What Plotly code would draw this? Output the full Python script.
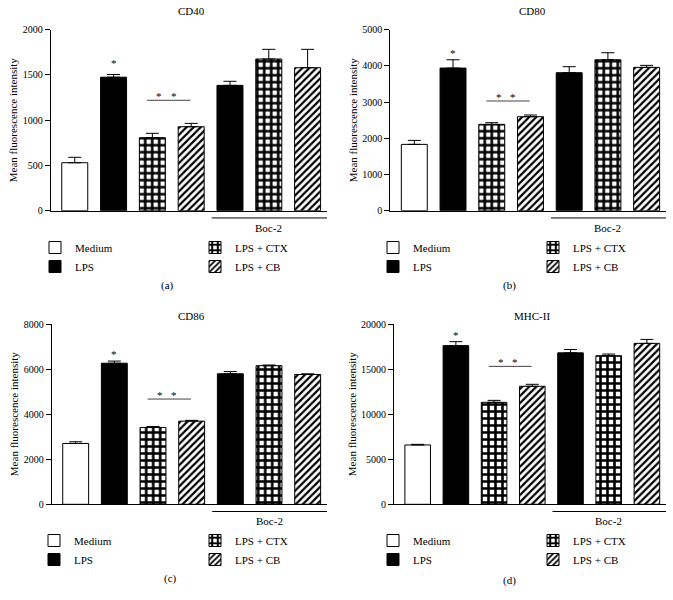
import plotly.graph_objects as go

# ---------------- data ----------------
categories = ["Medium", "LPS", "LPS + CTX", "LPS + CB",
              "Boc-2 LPS", "Boc-2 LPS + CTX", "Boc-2 LPS + CB"]
groups = ["Medium", "LPS", "LPS + CTX", "LPS + CB", "LPS", "LPS + CTX", "LPS + CB"]
legend_groups = ["Medium", "LPS", "LPS + CTX", "LPS + CB"]

panel_titles = ["CD40", "CD80", "CD86", "MHC-II"]
panel_labels = ["(a)", "(b)", "(c)", "(d)"]

cd40_mean = [530, 1475, 807, 928, 1385, 1676, 1580]
cd40_err = [60, 30, 48, 37, 45, 107, 203]
cd80_mean = [1832, 3940, 2385, 2597, 3812, 4170, 3959]
cd80_err = [110, 230, 46, 46, 166, 194, 56]
cd86_mean = [2700, 6260, 3410, 3690, 5790, 6150, 5760]
cd86_err = [75, 95, 40, 35, 100, 30, 30]
mhc_mean = [6580, 17600, 11310, 13090, 16800, 16480, 17850]
mhc_err = [70, 440, 220, 220, 370, 185, 440]

y_max = [2000, 5000, 8000, 20000]
y_dtick = [500, 1000, 2000, 5000]
bracket_level = [1220, 3030, 4670, 15300]
star_level = [1646, 4376, 6700, 18860]

means = [cd40_mean, cd80_mean, cd86_mean, mhc_mean]
errs = [cd40_err, cd80_err, cd86_err, mhc_err]

# ---------------- layout geometry ----------------
W, H = 673, 600
FONT = "Liberation Serif"

def px_x(v):
    return v / W

def px_y(v):
    return 1 - v / H

x_domains = [[px_x(50.7), px_x(327)], [px_x(390.3), px_x(666)],
             [px_x(51.7), px_x(327)], [px_x(394), px_x(666)]]
y_domains = [[px_y(210.7), px_y(29.7)], [px_y(210.7), px_y(29.7)],
             [px_y(504.3), px_y(324)], [px_y(504.3), px_y(324)]]

title_pos = [(191.7, 11), (532, 11), (191.7, 316), (532, 316)]
caption_pos = [(167, 285), (509, 285), (170, 578), (509, 580)]
legend_left_text = [75, 413, 74, 413]
legend_right_text = [235, 573, 235, 573]
legend_top = [233, 233, 526, 526]

styles = {
    "Medium": dict(color="white", line=dict(color="black", width=1)),
    "LPS": dict(color="black", line=dict(color="black", width=1)),
    "LPS + CTX": dict(color="white", line=dict(color="black", width=1),
                      pattern=dict(shape="+", fgcolor="black", bgcolor="white",
                                   size=7, solidity=0.6, fillmode="replace")),
    "LPS + CB": dict(color="white", line=dict(color="black", width=1),
                     pattern=dict(shape="/", fgcolor="black", bgcolor="white",
                                  size=5, solidity=0.45, fillmode="replace")),
}

fig = go.Figure()
layout = dict(width=W, height=H, margin=dict(l=0, r=0, t=0, b=0),
              paper_bgcolor="white", plot_bgcolor="white",
              barmode="overlay", font=dict(family=FONT, size=11, color="black"))
annotations = []
shapes = []

for p in range(4):
    sfx = "" if p == 0 else str(p + 1)
    xa, ya = "x" + sfx, "y" + sfx
    leg_left = "legend" if p == 0 else "legend" + str(2 * p + 1)
    leg_right = "legend" + str(2 * p + 2)
    for g in legend_groups:
        idx = [i for i, gg in enumerate(groups) if gg == g]
        fig.add_trace(go.Bar(
            x=[categories[i] for i in idx],
            y=[means[p][i] for i in idx],
            error_y=dict(type="data", symmetric=False,
                         array=[errs[p][i] for i in idx],
                         arrayminus=[0] * len(idx),
                         color="black", thickness=1, width=6.5),
            marker=styles[g], width=0.67, name=g,
            legend=leg_left if g in ("Medium", "LPS") else leg_right,
            xaxis=xa, yaxis=ya, showlegend=True,
        ))
    layout["xaxis" + sfx] = dict(
        domain=x_domains[p], anchor=ya, type="category",
        categoryorder="array", categoryarray=categories,
        range=[-0.62, 6.5], showticklabels=False, ticks="",
        showline=True, linecolor="black", linewidth=1,
        showgrid=False, zeroline=False, fixedrange=True)
    layout["yaxis" + sfx] = dict(
        domain=y_domains[p], anchor=xa, range=[0, y_max[p]],
        dtick=y_dtick[p], tick0=0, tickformat="d",
        ticks="outside", ticklen=5, tickwidth=1, tickcolor="black",
        showline=True, linecolor="black", linewidth=1,
        showgrid=False, zeroline=False, automargin=False,
        tickfont=dict(family=FONT, size=10, color="black"),
        title=dict(text="Mean fluorescence intensity",
                   font=dict(family=FONT, size=11, color="black"), standoff=2))
    # legends
    for leg, tx in ((leg_left, legend_left_text[p]), (leg_right, legend_right_text[p])):
        layout[leg] = dict(x=px_x(tx - 40), y=px_y(legend_top[p]),
                           xanchor="left", yanchor="top",
                           bgcolor="rgba(0,0,0,0)", borderwidth=0,
                           font=dict(family=FONT, size=11, color="black"),
                           tracegroupgap=0, traceorder="normal")
    # Boc-2 group line and label
    shapes.append(dict(type="line", xref=xa, yref=ya + " domain",
                       x0=3.53, x1=6.5, y0=-0.04, y1=-0.04,
                       line=dict(color="black", width=1)))
    annotations.append(dict(text="Boc-2", xref=xa, yref=ya + " domain",
                            x=categories[5], y=-0.094, showarrow=False,
                            yanchor="middle", xanchor="center",
                            font=dict(family=FONT, size=11, color="black")))
    # significance bracket
    shapes.append(dict(type="line", xref=xa, yref=ya,
                       x0=1.86, x1=2.98, y0=bracket_level[p], y1=bracket_level[p],
                       line=dict(color="#444", width=1)))
    for sx in (2.18, 2.55):
        annotations.append(dict(text="*", xref=xa, yref=ya, x=sx, y=bracket_level[p],
                                showarrow=False, yanchor="bottom", yshift=-4,
                                font=dict(family=FONT, size=11, color="black")))
    annotations.append(dict(text="*", xref=xa, yref=ya, x=categories[1], y=star_level[p],
                            showarrow=False, yanchor="middle", yshift=-1,
                            font=dict(family=FONT, size=11, color="black")))
    # panel title and caption
    tx, ty = title_pos[p]
    annotations.append(dict(text=panel_titles[p], xref="paper", yref="paper",
                            x=px_x(tx), y=px_y(ty), showarrow=False,
                            xanchor="center", yanchor="middle",
                            font=dict(family=FONT, size=11, color="black")))
    cx, cy = caption_pos[p]
    annotations.append(dict(text=panel_labels[p], xref="paper", yref="paper",
                            x=px_x(cx), y=px_y(cy), showarrow=False,
                            xanchor="center", yanchor="middle",
                            font=dict(family=FONT, size=11, color="black")))

layout["annotations"] = annotations
layout["shapes"] = shapes
fig.update_layout(**layout)
fig.write_html("out.html", config={"displayModeBar": False},
               post_script="document.body.style.margin='0';")
